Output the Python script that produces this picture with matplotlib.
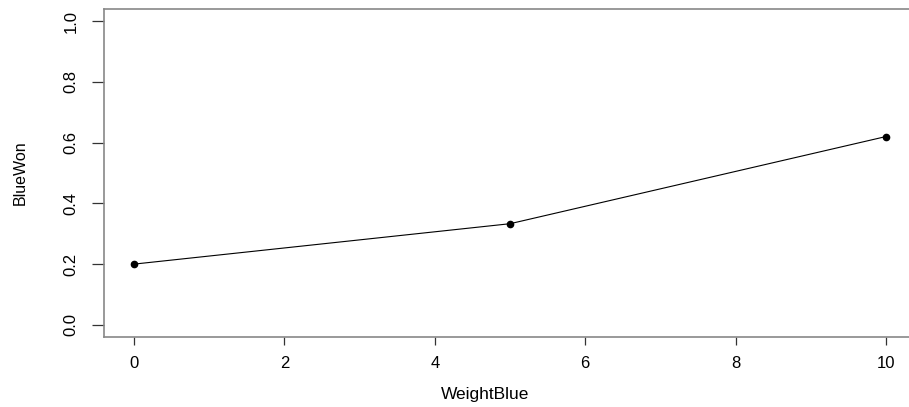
import matplotlib
matplotlib.use('Agg')
import matplotlib.pyplot as plt

# data
weight_blue = [0, 5, 10]
blue_won = [0.2, 0.333, 0.62]
x_ticks = [0, 2, 4, 6, 8, 10]
y_ticks = [0.0, 0.2, 0.4, 0.6, 0.8, 1.0]

plt.rcParams['font.family'] = ['Liberation Sans', 'DejaVu Sans']

fig = plt.figure(figsize=(9.09, 4.07), dpi=100)
# R-style plot region; right edge runs slightly past the image
ax = fig.add_axes([104 / 909, 70 / 407, 812 / 909, 328 / 407])

ax.plot(weight_blue, blue_won, color='black', linewidth=0.8,
        marker='o', markersize=4.5)

ax.set_xlim(-0.4, 10.4)
ax.set_ylim(-0.04, 1.04)
ax.set_xticks(x_ticks)
ax.set_yticks(y_ticks)
ax.set_xticklabels([str(t) for t in x_ticks], fontsize=12)
ax.set_yticklabels(['%.1f' % t for t in y_ticks], fontsize=12,
                   rotation=90, va='center')

for s in ax.spines.values():
    s.set_color('#888888')
    s.set_linewidth(1.2)
ax.spines['right'].set_visible(False)

ax.tick_params(axis='x', length=5.5, width=0.9, color='#333333', pad=8)
ax.tick_params(axis='y', length=8.5, width=0.9, color='#333333', pad=10)

ax.set_xlabel('WeightBlue', fontsize=12.5)
ax.set_ylabel('BlueWon', fontsize=11.5)
ax.xaxis.set_label_coords(485 / 909, (407 - 395) / 407, transform=fig.transFigure)
ax.yaxis.set_label_coords(20 / 909, (407 - 173) / 407, transform=fig.transFigure)
ax.xaxis.label.set_va('center')
ax.yaxis.label.set_va('center')

fig.savefig('out.png', dpi=100)
